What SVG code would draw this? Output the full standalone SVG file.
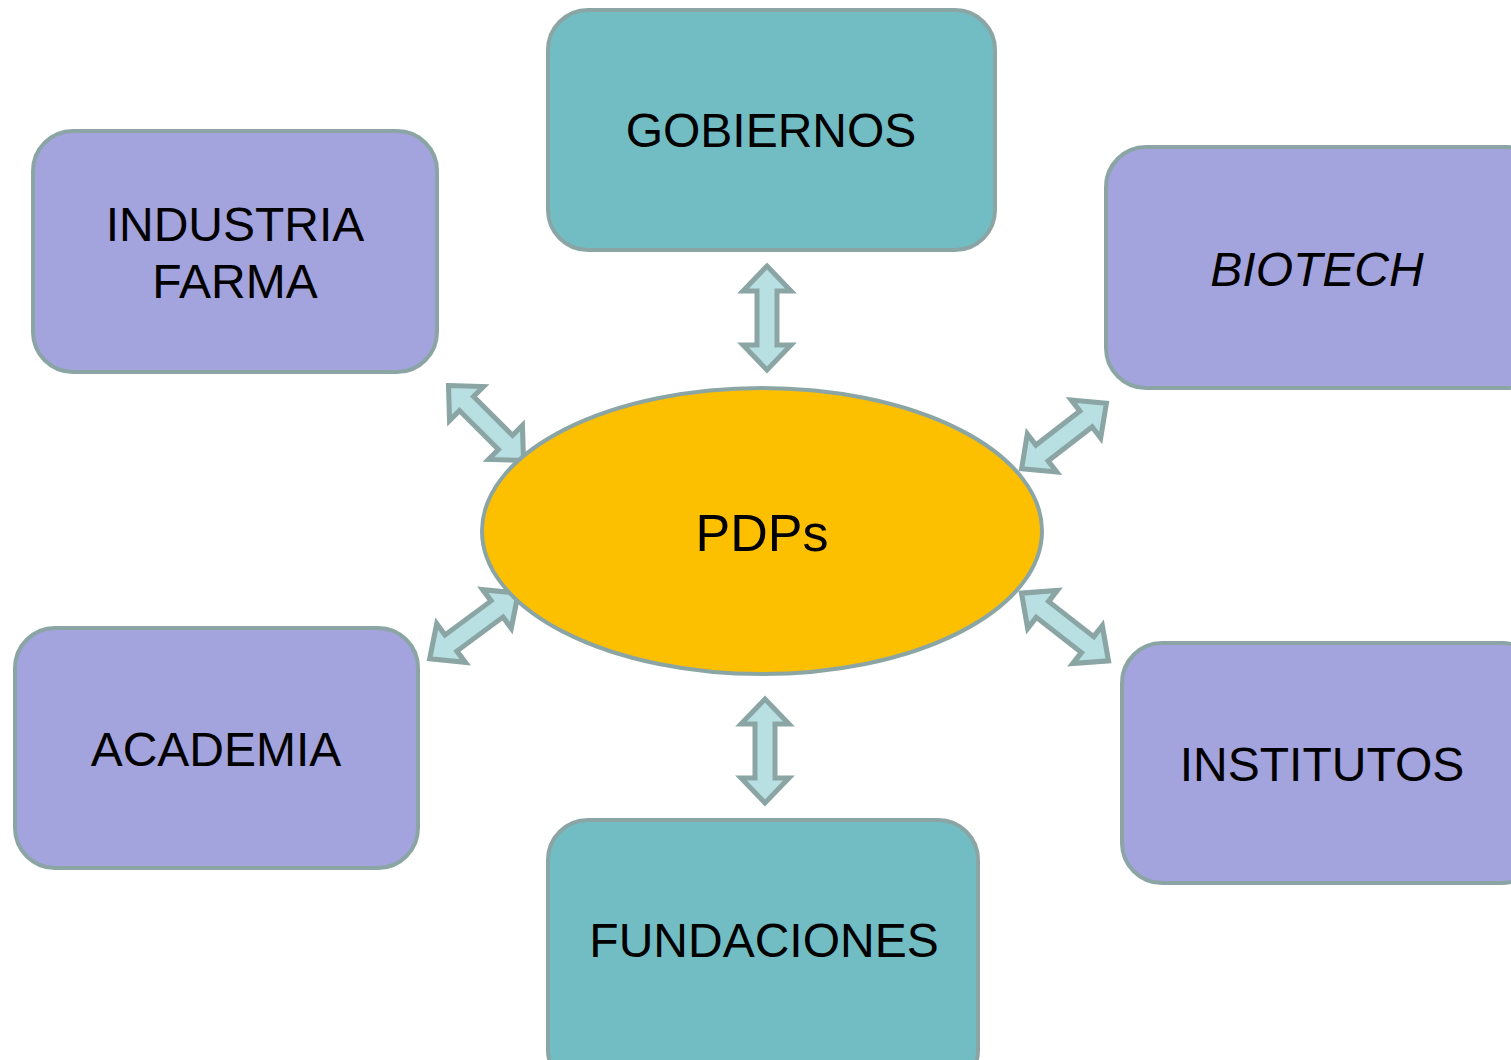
<svg xmlns="http://www.w3.org/2000/svg" width="1511" height="1060" viewBox="0 0 1511 1060">
<defs>
<style>
.box{stroke:#8BA5A5;stroke-width:4}
.teal{fill:#72BDC3}
.purple{fill:#A3A3DD}
.lbl{font-family:"Liberation Sans",Arial,sans-serif;font-size:48px;fill:#000;text-anchor:middle}
.arr{fill:#B8DFE2;stroke:#8BA5A5;stroke-width:5;stroke-linejoin:miter}
</style>
<path id="da" d="M-52,0 L-27,-24 L-27,-10 L27,-10 L27,-24 L52,0 L27,24 L27,10 L-27,10 L-27,24 Z"/>
</defs>
<rect width="1511" height="1060" fill="#fff"/>
<g id="connectors">
<use href="#da" class="arr" transform="translate(767,318) rotate(90)"/>
<use href="#da" class="arr" transform="translate(765,751) rotate(90)"/>
<use href="#da" class="arr" transform="translate(486,423) rotate(45) scale(1.02,1)"/>
<use href="#da" class="arr" transform="translate(1064,436) rotate(-37.7) scale(1.03,1)"/>
<use href="#da" class="arr" transform="translate(474,626) rotate(-36.5) scale(1.06,1)"/>
<use href="#da" class="arr" transform="translate(1065,627) rotate(37.9) scale(1.06,1)"/>
</g>
<g id="gobiernos">
<rect class="box teal" x="548" y="10" width="447" height="240" rx="40"/>
<text class="lbl" x="771" y="147">GOBIERNOS</text>
</g>
<g id="industria">
<rect class="box purple" x="33" y="131" width="404" height="241" rx="40"/>
<text class="lbl" x="235" y="241">INDUSTRIA</text>
<text class="lbl" x="235" y="298">FARMA</text>
</g>
<g id="biotech">
<rect class="box purple" x="1106" y="147" width="440" height="241" rx="40"/>
<text class="lbl" x="1317" y="286" font-style="italic">BIOTECH</text>
</g>
<g id="pdps">
<ellipse cx="762" cy="531" rx="280" ry="143" fill="#FDC000" stroke="#8BA5A5" stroke-width="4"/>
<text class="lbl" x="762" y="551" style="font-size:52px">PDPs</text>
</g>
<g id="academia">
<rect class="box purple" x="15" y="628" width="403" height="240" rx="40"/>
<text class="lbl" x="216" y="766">ACADEMIA</text>
</g>
<g id="institutos">
<rect class="box purple" x="1122" y="643" width="420" height="240" rx="40"/>
<text class="lbl" x="1322" y="781">INSTITUTOS</text>
</g>
<g id="fundaciones">
<rect class="box teal" x="548" y="820" width="430" height="270" rx="40"/>
<text class="lbl" x="764" y="957">FUNDACIONES</text>
</g>
</svg>
